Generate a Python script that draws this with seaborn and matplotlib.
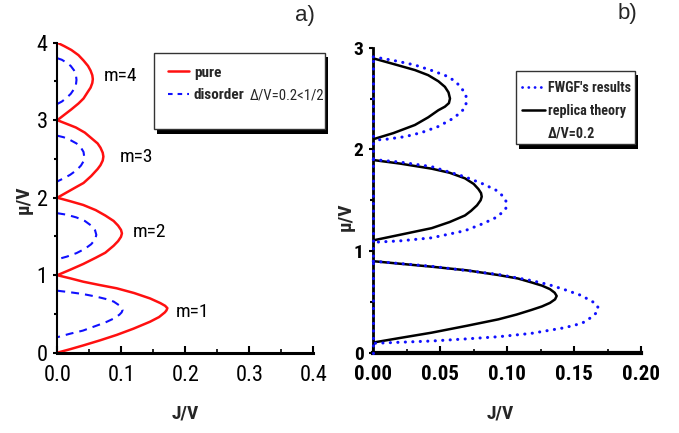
import matplotlib
matplotlib.use("Agg")
import matplotlib.pyplot as plt
import seaborn as sns
import pandas as pd
from matplotlib import font_manager as fm
from matplotlib.lines import Line2D
from matplotlib.patches import Rectangle
from matplotlib.ticker import MultipleLocator, FormatStrFormatter

# ---------------- panel a) data (J/V, mu/V) ----------------
pure_lobe_J = {
    1: [0, 0.02, 0.0406, 0.065, 0.0928, 0.12, 0.145, 0.161, 0.1685, 0.172, 0.1705, 0.168, 0.159, 0.145, 0.119, 0.093, 0.067, 0.041, 0.02, 0],
    2: [0, 0.02, 0.0406, 0.06, 0.075, 0.088, 0.095, 0.0995, 0.101, 0.0995, 0.095, 0.088, 0.075, 0.06, 0.0406, 0.02, 0],
    3: [0, 0.014, 0.029, 0.043, 0.053, 0.063, 0.0675, 0.071, 0.072, 0.071, 0.0675, 0.063, 0.053, 0.041, 0.029, 0.014, 0],
    4: [0, 0.011, 0.022, 0.033, 0.041, 0.048, 0.052, 0.0547, 0.0555, 0.0547, 0.052, 0.048, 0.041, 0.033, 0.022, 0.011, 0],
}
pure_lobe_mu = {
    1: [1.0, 0.96, 0.916, 0.875, 0.831, 0.77, 0.70, 0.64, 0.605, 0.575, 0.545, 0.52, 0.46, 0.40, 0.31, 0.23, 0.16, 0.095, 0.045, 0.0],
    2: [2.0, 1.955, 1.906, 1.84, 1.77, 1.70, 1.64, 1.585, 1.54, 1.495, 1.44, 1.38, 1.29, 1.225, 1.145, 1.07, 1.0],
    3: [3.0, 2.955, 2.906, 2.84, 2.77, 2.70, 2.645, 2.58, 2.53, 2.48, 2.42, 2.37, 2.28, 2.19, 2.135, 2.065, 2.0],
    4: [4.0, 3.955, 3.906, 3.84, 3.77, 3.70, 3.64, 3.58, 3.53, 3.48, 3.42, 3.37, 3.28, 3.215, 3.14, 3.07, 3.0],
}
dis_lobe_J = {
    1: [0, 0.02, 0.04, 0.06, 0.075, 0.088, 0.097, 0.1005, 0.102, 0.1005, 0.097, 0.088, 0.075, 0.06, 0.04, 0.02, 0],
    2: [0, 0.015, 0.03, 0.043, 0.053, 0.059, 0.061, 0.059, 0.053, 0.043, 0.03, 0.015, 0],
    3: [0, 0.01, 0.02, 0.03, 0.037, 0.041, 0.042, 0.041, 0.037, 0.03, 0.02, 0.01, 0],
    4: [0, 0.007, 0.014, 0.021, 0.026, 0.029, 0.030, 0.029, 0.026, 0.021, 0.014, 0.007, 0],
}
dis_lobe_mu = {
    1: [0.80, 0.78, 0.757, 0.725, 0.695, 0.66, 0.61, 0.58, 0.55, 0.52, 0.49, 0.44, 0.39, 0.345, 0.285, 0.245, 0.20],
    2: [1.80, 1.78, 1.745, 1.70, 1.64, 1.58, 1.52, 1.46, 1.40, 1.34, 1.285, 1.24, 1.205],
    3: [2.80, 2.78, 2.745, 2.70, 2.645, 2.59, 2.53, 2.47, 2.415, 2.355, 2.295, 2.25, 2.21],
    4: [3.80, 3.78, 3.745, 3.70, 3.645, 3.59, 3.52, 3.45, 3.40, 3.34, 3.285, 3.24, 3.21],
}
lobe_labels = ["m=1", "m=2", "m=3", "m=4"]
label_J = [0.2116, 0.1448, 0.124, 0.098]
label_mu = [0.529, 1.561, 2.529, 3.57]

# ---------------- panel b) data ----------------
rep_lobe_J = {
    1: [0, 0.02, 0.0436, 0.07, 0.0934, 0.108, 0.118, 0.126, 0.132, 0.1355, 0.137, 0.1358, 0.132, 0.126, 0.118, 0.107, 0.0934, 0.07, 0.0436, 0.02, 0],
    2: [0, 0.02, 0.0436, 0.057, 0.0685, 0.075, 0.0785, 0.0805, 0.081, 0.0802, 0.0775, 0.073, 0.0685, 0.057, 0.0436, 0.02, 0],
    3: [0, 0.015, 0.0311, 0.041, 0.0486, 0.0535, 0.0562, 0.0573, 0.0565, 0.0535, 0.0486, 0.041, 0.0311, 0.015, 0],
}
rep_lobe_mu = {
    1: [0.90, 0.875, 0.846, 0.81, 0.764, 0.73, 0.692, 0.66, 0.625, 0.59, 0.558, 0.525, 0.49, 0.455, 0.42, 0.375, 0.328, 0.265, 0.197, 0.145, 0.10],
    2: [1.895, 1.86, 1.81, 1.77, 1.715, 1.66, 1.61, 1.57, 1.535, 1.50, 1.45, 1.395, 1.35, 1.285, 1.225, 1.16, 1.105],
    3: [2.895, 2.84, 2.78, 2.73, 2.67, 2.615, 2.56, 2.50, 2.455, 2.42, 2.385, 2.315, 2.24, 2.16, 2.10],
}
fw_lobe_J = {
    0: [0, 0],
    1: [0, 0.0436, 0.0934, 0.118, 0.131, 0.143, 0.155, 0.163, 0.1665, 0.168, 0.1672, 0.1636, 0.156, 0.143, 0.118, 0.0934, 0.0685, 0.0436, 0.0187, 0],
    2: [0, 0.02, 0.0436, 0.0685, 0.082, 0.0915, 0.096, 0.0985, 0.0997, 0.099, 0.096, 0.0909, 0.082, 0.0685, 0.0436, 0.02, 0],
    3: [0, 0.015, 0.031, 0.045, 0.056, 0.062, 0.066, 0.069, 0.0698, 0.069, 0.066, 0.059, 0.0486, 0.036, 0.0237, 0.01, 0],
}
fw_lobe_mu = {
    0: [0.0, 2.93],
    1: [0.90, 0.85, 0.77, 0.71, 0.67, 0.62, 0.565, 0.508, 0.48, 0.442, 0.40, 0.354, 0.29, 0.246, 0.19, 0.157, 0.135, 0.115, 0.102, 0.092],
    2: [1.90, 1.875, 1.83, 1.73, 1.66, 1.60, 1.55, 1.51, 1.47, 1.42, 1.375, 1.325, 1.27, 1.20, 1.13, 1.10, 1.086],
    3: [2.91, 2.875, 2.83, 2.77, 2.715, 2.66, 2.60, 2.54, 2.486, 2.43, 2.37, 2.30, 2.225, 2.165, 2.125, 2.10, 2.09],
}


def to_frame(Jd, mud):
    rows = []
    for k in Jd:
        for j, m in zip(Jd[k], mud[k]):
            rows.append({"lobe": k, "J": j, "mu": m})
    return pd.DataFrame(rows)


df_pure = to_frame(pure_lobe_J, pure_lobe_mu)
df_dis = to_frame(dis_lobe_J, dis_lobe_mu)
df_rep = to_frame(rep_lobe_J, rep_lobe_mu)
df_fw = to_frame(fw_lobe_J, fw_lobe_mu)

# look for a narrow / condensed sans face
cond_name = None
for pref in ["Liberation Sans Narrow", "Arial Narrow", "DejaVu Sans Condensed",
             "Roboto Condensed", "Open Sans Condensed", "Noto Sans Condensed"]:
    if any(f.name == pref for f in fm.fontManager.ttflist):
        cond_name = pref
        break
if cond_name is None:
    for f in fm.fontManager.ttflist:
        if ("Narrow" in f.name or "Condensed" in f.name) and "Mono" not in f.name:
            cond_name = f.name
            break

sns.set_theme(style="ticks")
if cond_name:
    FAM = [cond_name, "DejaVu Sans"]
    TICKA, TICKBX, TICKBY, MLAB, LEGA, LEGB, DTXT = 16, 15, 14, 14, 11, 10.2, 10.5
else:
    FAM = ["Liberation Sans", "DejaVu Sans"]
    TICKA, TICKBX, TICKBY, MLAB, LEGA, LEGB, DTXT = 13, 12.5, 12, 12.5, 10, 8.3, 9
plt.rcParams["font.family"] = FAM

fig = plt.figure(figsize=(6.79, 4.33), dpi=100)
W, H = 679.0, 433.0


def fig_axes(x0, x1, ytop, ybot):
    return fig.add_axes([x0 / W, 1 - ybot / H, (x1 - x0) / W, (ybot - ytop) / H])


axA = fig_axes(57.3, 313.3, 42.7, 352.7)
axB = fig_axes(373.3, 641.0, 47.7, 352.7)

RED = "#ff1010"
BLUE = "#1010ff"

# ---- panel a
sns.lineplot(data=df_pure, x="J", y="mu", units="lobe", estimator=None, sort=False,
             color=RED, lw=1.8, ax=axA, legend=False)
n_pure = len(axA.lines)
sns.lineplot(data=df_dis, x="J", y="mu", units="lobe", estimator=None, sort=False,
             color=BLUE, lw=1.5, ax=axA, legend=False)
for ln in axA.lines[n_pure:]:
    ln.set_linestyle((0, (3.8, 2.9)))
axA.set_xlim(0, 0.4)
axA.set_ylim(0, 4)
axA.xaxis.set_major_locator(MultipleLocator(0.1))
axA.xaxis.set_minor_locator(MultipleLocator(0.05))
axA.yaxis.set_major_locator(MultipleLocator(1))
axA.yaxis.set_minor_locator(MultipleLocator(0.5))
axA.xaxis.set_major_formatter(FormatStrFormatter("%.1f"))
axA.yaxis.set_major_formatter(FormatStrFormatter("%d"))
for t, j, m in zip(lobe_labels, label_J, label_mu):
    axA.text(j, m, t, ha="center", va="center", fontsize=MLAB, color="black")

# ---- panel b
sns.lineplot(data=df_fw, x="J", y="mu", units="lobe", estimator=None, sort=False,
             color=BLUE, lw=2.2, ax=axB, legend=False)
for ln in axB.lines:
    ln.set_linestyle((0, (0.05, 2.4)))
    ln.set_dash_capstyle("round")
    ln.set_clip_on(False)
    ln.set_zorder(4)
sns.lineplot(data=df_rep, x="J", y="mu", units="lobe", estimator=None, sort=False,
             color="black", lw=1.8, ax=axB, legend=False)
axB.set_xlim(0, 0.2)
axB.set_ylim(0, 3)
axB.xaxis.set_major_locator(MultipleLocator(0.05))
axB.xaxis.set_minor_locator(MultipleLocator(0.025))
axB.yaxis.set_major_locator(MultipleLocator(1))
axB.yaxis.set_minor_locator(MultipleLocator(0.5))
axB.xaxis.set_major_formatter(FormatStrFormatter("%.2f"))
axB.yaxis.set_major_formatter(FormatStrFormatter("%d"))

for ax, bw, lw, bold, tx, ty in [(axA, 2.2, 1.5, False, TICKA, TICKA),
                                 (axB, 3.0, 2.0, True, TICKBX, TICKBY)]:
    sns.despine(ax=ax)
    ax.spines["bottom"].set_linewidth(bw)
    ax.spines["left"].set_linewidth(lw)
    ax.spines["bottom"].set_color("black")
    ax.spines["left"].set_color("black")
    ax.set_xlabel("")
    ax.set_ylabel("")
    ax.tick_params(axis="x", which="major", direction="in", length=5, width=1.5, pad=9,
                   labelsize=tx, colors="black")
    ax.tick_params(axis="x", which="minor", direction="in", length=3, width=1.2, colors="black")
    ax.tick_params(axis="y", which="major", direction="out", length=3, width=1.5, pad=4,
                   labelsize=ty, colors="black")
    ax.tick_params(axis="y", which="minor", direction="out", length=2, width=1.5, colors="black")
    for lab in ax.get_xticklabels() + ax.get_yticklabels():
        lab.set_fontweight("bold" if bold else "normal")
    ax.set_facecolor("white")

# axis titles
fig.text(185 / W, 1 - 413 / H, "J/V", ha="center", va="center", fontsize=14, fontweight="bold")
fig.text(500 / W, 1 - 413 / H, "J/V", ha="center", va="center", fontsize=14, fontweight="bold")
fig.text(24 / W, 1 - 200 / H, "μ/V", ha="center", va="center", fontsize=14, fontweight="bold", rotation=90)
fig.text(346 / W, 1 - 217 / H, "μ/V", ha="center", va="center", fontsize=14, fontweight="bold", rotation=90)
fig.text(305 / W, 1 - 15 / H, "a)", ha="center", va="center", fontsize=16,
         family=["Liberation Sans", "DejaVu Sans"])
fig.text(627 / W, 1 - 14 / H, "b)", ha="center", va="center", fontsize=16,
         family=["Liberation Sans", "DejaVu Sans"])


# legend boxes with shadows
def box(x0, y0, x1, y1, sx1, sy1):
    fig.add_artist(Rectangle(((x0 + 3) / W, 1 - sy1 / H), (sx1 - x0 - 3) / W, (sy1 - y0 - 4) / H,
                             transform=fig.transFigure, facecolor="black", edgecolor="none", zorder=5))
    fig.add_artist(Rectangle((x0 / W, 1 - y1 / H), (x1 - x0) / W, (y1 - y0) / H,
                             transform=fig.transFigure, facecolor="white", edgecolor="#333333",
                             lw=1.0, zorder=6))


box(154, 53, 325, 129, 328, 134)
box(516, 71, 635, 144, 638, 149)

hA = [Line2D([], [], color=RED, lw=1.8),
      Line2D([], [], color=BLUE, lw=1.5, ls=(0, (2.2, 2.4)))]
legA = fig.legend(hA, ["pure", "disorder"], loc="center left",
                  bbox_to_anchor=(168 / W, 1 - 84 / H), bbox_transform=fig.transFigure,
                  frameon=False, borderpad=0, borderaxespad=0, handlelength=1.4,
                  handletextpad=0.3, labelspacing=0.55,
                  prop={"family": FAM, "weight": "bold", "size": LEGA})
legA.set_zorder(7)

hB = [Line2D([], [], color=BLUE, lw=2.0, ls=(0, (0.05, 2.2)), dash_capstyle="round"),
      Line2D([], [], color="black", lw=1.8),
      Line2D([], [], color="none")]
legB = fig.legend(hB, ["FWGF's results", "replica theory", "Δ/V=0.2"], loc="center left",
                  bbox_to_anchor=(522 / W, 1 - 110.5 / H), bbox_transform=fig.transFigure,
                  frameon=False, borderpad=0, borderaxespad=0, handlelength=1.6,
                  handletextpad=0.2, labelspacing=0.6,
                  prop={"family": FAM, "weight": "bold", "size": LEGB})
legB.set_zorder(7)

# "Δ/V=0.2<1/2" follows the "disorder" label
fig.canvas.draw()
bb = legA.get_texts()[1].get_window_extent(fig.canvas.get_renderer())
xs = max(bb.x1 + 5, 246)
fig.text(xs / fig.bbox.width, (bb.y0 + bb.y1) / 2 / fig.bbox.height, "Δ/V=0.2<1/2",
         ha="left", va="center", fontsize=DTXT, zorder=8, family=FAM)

fig.savefig("out.png", dpi=100, facecolor="white")
